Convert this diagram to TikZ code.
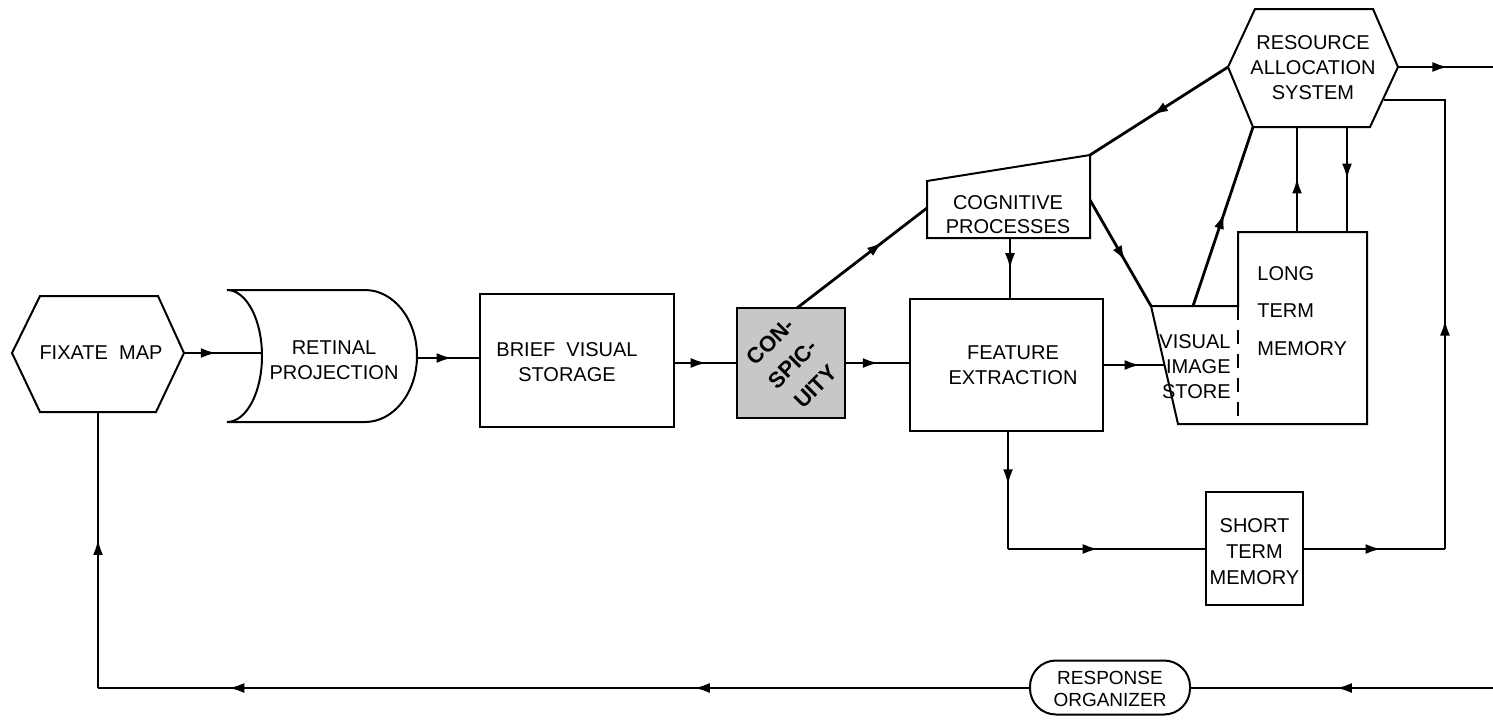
\documentclass[tikz,border=0pt]{standalone}
\usepackage{fontspec}
\setmainfont{Liberation Sans}
\usetikzlibrary{arrows.meta,decorations.markings}
\tikzset{
  conn/.style={line width=1.4pt},
  box/.style={line width=1pt},
  rect/.style={draw,line width=1pt,inner sep=0pt},
  arr/.style={postaction={decorate},decoration={markings,mark=at position #1 with {\arrow{Latex[length=8pt,width=5pt]}}}},
  lbl/.style={font=\fontsize{10}{12.5}\selectfont,align=center,inner sep=0pt},
}
\begin{document}
\begin{tikzpicture}[x=0.5pt,y=-0.5pt]
\useasboundingbox (0,0) rectangle (1493,725);

% ---------- shapes ----------
% Fixate map (hexagon)
\draw[box] (12,353) -- (40,296) -- (158,296) -- (184,353) -- (156,412) -- (40,412) -- cycle;
\node[lbl] (fix) at (101,353) {FIXATE\ \ MAP};
\coordinate (fixE) at (184,353);
\coordinate (fixS) at (98,412);

% Retinal projection
\draw[box] (227,290) -- (365,290)
  arc[start angle=90,end angle=-90,x radius=26pt,y radius=33pt]
  -- (227,422)
  arc[start angle=-90,end angle=90,x radius=17.5pt,y radius=33pt] -- cycle;
\node[lbl] (ret) at (334,360) {RETINAL\\PROJECTION};
\coordinate (retW) at (262,353);
\coordinate (retE) at (416,358);

% Brief visual storage
\node[rect,minimum width=97pt,minimum height=66.5pt] (bvs) at (577,360.5) {};
\node[lbl] (bvsT) at (567,362) {BRIEF\ \ VISUAL\\STORAGE};

% Conspicuity
\node[rect,fill=black!22,minimum width=54pt,minimum height=55pt] (con) at (791,363) {};
\node[font=\fontsize{11}{16}\selectfont\bfseries,align=center,inner sep=0pt,rotate=45] (conT) at (793,364) {CON-\\SPIC-\\UITY};
\coordinate (conN) at (797,308);

% Feature extraction
\node[rect,minimum width=96.5pt,minimum height=66pt] (fe) at (1006.5,365) {};
\node[lbl] (feT) at (1013,365) {FEATURE\\EXTRACTION};
\coordinate (feS) at (1008,431);

% Cognitive processes
\draw[box] (927,181) -- (1090,155) -- (1090,238) -- (927,238) -- cycle;
\node[lbl,font=\fontsize{10}{12}\selectfont] (cog) at (1008,215) {COGNITIVE\\PROCESSES};
\coordinate (cogW) at (927,208);
\coordinate (cogNE) at (1090,155);
\coordinate (cogE) at (1090,200);
\coordinate (cogS) at (1010,238);

% Resource allocation system
\draw[box] (1228,67) -- (1255,9) -- (1373,9) -- (1398,67) -- (1370,127) -- (1253,127) -- cycle;
\node[lbl] (ras) at (1313,68) {RESOURCE\\ALLOCATION\\SYSTEM};
\coordinate (rasW) at (1228,67);
\coordinate (rasE) at (1398,67);
\coordinate (rasSW) at (1253,127);
\coordinate (rasS1) at (1297,127);
\coordinate (rasS2) at (1347,127);
\coordinate (rasSE) at (1384,100);

% Visual image store + long term memory
\draw[box] (1238,306) -- (1238,232) -- (1367,232) -- (1367,424) -- (1178,424) -- (1151,306) -- cycle;
\draw[box,dash pattern=on 7pt off 5pt] (1238,306) -- (1238,424);
\node[lbl,align=right,anchor=east,font=\fontsize{10}{12.5}\selectfont] (vis) at (1231,367) {VISUAL\\IMAGE\\STORE};
\node[lbl,align=left,anchor=west,font=\fontsize{10}{18.75}\selectfont] (ltm) at (1257,311) {LONG\\TERM\\MEMORY};
\coordinate (visNW) at (1151,306);
\coordinate (visN) at (1193,306);
\coordinate (visW) at (1165,365);
\coordinate (ltmN1) at (1297,232);
\coordinate (ltmN2) at (1347,232);

% Short term memory
\node[rect,minimum width=48.5pt,minimum height=56.5pt] (stm) at (1254.5,548.5) {};
\node[lbl,font=\fontsize{10}{13}\selectfont] (stmT) at (1254.5,552) {SHORT\\TERM\\MEMORY};

% Response organizer
\node[rect,rounded corners=13pt,minimum width=80pt,minimum height=27pt] (ro) at (1110,687.5) {};
\node[lbl,font=\fontsize{9.5}{11}\selectfont] (roT) at (1110,689) {RESPONSE\\ORGANIZER};

% free ends / corners
\coordinate (outR) at (1493,67);
\coordinate (inR) at (1493,688);
\coordinate (c1) at (1445,549);
\coordinate (c2) at (1445,100);
\coordinate (c3) at (1008,549);
\coordinate (c4) at (98,688);

% ---------- connectors ----------
\draw[conn,arr=0.42] (fixE) -- (retW);
\draw[conn,arr=0.58] (retE) -- (retE -| bvs.west);
\draw[conn,arr=0.52] (con.west -| bvs.east) -- (con.west);
\draw[conn,arr=0.52] (con.east) -- (con.east -| fe.west);
\draw[conn,arr=0.66] (conN) -- (cogW);
\draw[conn,arr=0.52] (cogS) -- (cogS |- fe.north);
\draw[conn,arr=0.55] (rasW) -- (cogNE);
\draw[conn,arr=0.58] (cogE) -- (visNW);
\draw[conn,arr=0.6] (fe.east |- visW) -- (visW);
\draw[conn,arr=0.52] (visN) -- (rasSW);
\draw[conn,arr=0.52] (ltmN1) -- (rasS1);
\draw[conn,arr=0.5] (rasS2) -- (ltmN2);
\draw[conn,arr=0.53] (rasE) -- (outR);
\draw[conn,arr=0.55] (stm.east |- c1) -- (c1);
\draw[conn,arr=0.45] (c1) -- (c2) -- (rasSE);
\draw[conn,arr=0.46] (feS) -- (c3);
\draw[conn,arr=0.46] (c3) -- (c3 -| stm.west);
\draw[conn,arr=0.52] (inR) -- (inR -| ro.east);
\draw[conn,arr=0.36] (ro.west |- c4) -- (c4);
\draw[conn,arr=0.86] (ro.west |- c4) -- (c4);
\draw[conn,arr=0.54] (c4) -- (fixS);
\end{tikzpicture}
\end{document}
